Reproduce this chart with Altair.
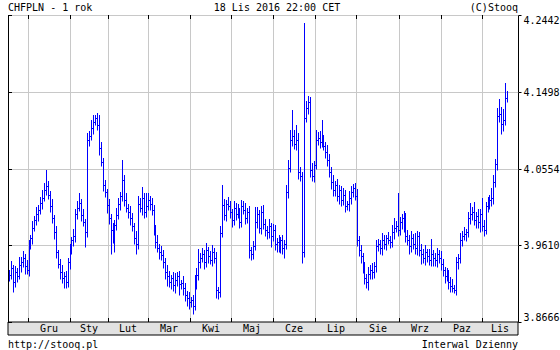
import altair as alt
import pandas as pd

# Daily CHF/PLN closes (18 Nov 2015 - 18 Nov 2016)
CLOSE = [
    3.9245, 3.9331, 3.9158, 3.9281, 3.9232, 3.9368, 3.9404, 3.9454, 3.9355, 3.9306,
    3.9614, 3.9700, 3.9823, 3.9921, 3.9995, 4.0044, 4.0130, 4.0192, 4.0290, 4.0339,
    4.0229, 4.0093, 3.9946, 3.9773, 3.9527, 3.9380, 3.9281, 3.9208, 3.9232, 3.9158,
    3.9404, 3.9552, 3.9675, 3.9724, 3.9995, 4.0069, 4.0130, 3.9983, 3.9896, 3.9773,
    4.0905, 4.0954, 4.1053, 4.1126, 4.1176, 4.1090, 4.0807, 4.0634, 4.0352, 4.0265,
    4.0106, 3.9946, 3.9798, 3.9724, 3.9860, 3.9983, 4.0118, 4.0216, 4.0413, 4.0167,
    4.0069, 4.0019, 3.9946, 3.9847, 3.9700, 3.9626, 4.0118, 4.0069, 4.0192, 4.0019,
    4.0093, 4.0167, 4.0118, 4.0044, 3.9823, 3.9650, 3.9577, 3.9527, 3.9491, 3.9404,
    3.9281, 3.9232, 3.9158, 3.9208, 3.9122, 3.9183, 3.9232, 3.9134, 3.9146, 3.9085,
    3.8999, 3.8962, 3.8912, 3.8937, 3.8863, 3.9158, 3.9245, 3.9404, 3.9454, 3.9503,
    3.9404, 3.9552, 3.9478, 3.9429, 3.9527, 3.9454, 3.9060, 3.9035, 3.9761, 4.0106,
    3.9983, 4.0118, 4.0093, 4.0019, 3.9921, 4.0069, 3.9995, 4.0019, 3.9896, 4.0093,
    4.0044, 3.9946, 4.0019, 3.9552, 3.9503, 3.9601, 3.9896, 3.9995, 3.9823, 4.0019,
    3.9872, 3.9798, 3.9773, 3.9847, 3.9724, 3.9798, 3.9626, 3.9650, 3.9601, 3.9675,
    3.9577, 3.9626, 4.0265, 4.0561, 4.0905, 4.0954, 4.0856, 4.0905, 4.0511, 4.0462,
    3.9527, 4.1176, 4.1299, 4.1372, 4.0536, 4.0462, 4.0598, 4.0905, 4.0930, 4.0880,
    4.0905, 4.0831, 4.0757, 4.0659, 4.0511, 4.0388, 4.0290, 4.0352, 4.0216, 4.0290,
    4.0167, 4.0229, 4.0093, 4.0118, 4.0192, 4.0265, 4.0315, 4.0216, 3.9675, 3.9552,
    3.9478, 3.9331, 3.9208, 3.9158, 3.9257, 3.9306, 3.9281, 3.9355, 3.9601, 3.9626,
    3.9577, 3.9675, 3.9626, 3.9700, 3.9675, 3.9650, 3.9773, 3.9823, 3.9847, 3.9798,
    3.9896, 3.9946, 3.9823, 3.9724, 3.9675, 3.9601, 3.9700, 3.9626, 3.9577, 3.9724,
    3.9552, 3.9503, 3.9454, 3.9527, 3.9478, 3.9429, 3.9503, 3.9454, 3.9429, 3.9503,
    3.9454, 3.9380, 3.9306, 3.9232, 3.9257, 3.9158, 3.9109, 3.9085, 3.9060, 3.9404,
    3.9454, 3.9675, 3.9724, 3.9749, 3.9773, 3.9946, 3.9995, 4.0019, 3.9921, 3.9970,
    3.9896, 3.9995, 3.9847, 3.9798, 4.0093, 4.0118, 4.0167, 4.0192, 4.0388, 4.0610,
    4.1200, 4.1225, 4.1102, 4.1151, 4.1422, 4.1459,
]

# Daily wick above / below the open-close body, in thousandths of a zloty
HI_EXT = [
    6, 9, 4, 7, 5, 10, 6, 8, 5, 7, 6, 4, 8, 5, 9, 6, 7, 10, 8, 20,
    6, 5, 9, 4, 7, 3, 6, 8, 5, 6, 5, 7, 4, 9, 6, 8, 12, 5, 7, 4,
    9, 6, 10, 8, 4, 6, 12, 7, 5, 6, 4, 7, 5, 8, 6, 9, 7, 5, 24, 6,
    8, 5, 7, 6, 4, 9, 10, 7, 14, 6, 16, 8, 5, 7, 6, 4, 8, 5, 7, 6,
    5, 8, 6, 4, 7, 9, 5, 6, 4, 8, 6, 5, 7, 4, 6, 9, 8, 16, 6, 7,
    5, 8, 4, 6, 9, 5, 7, 4, 8, 24, 7, 5, 9, 6, 4, 8, 6, 10, 5, 7,
    6, 9, 5, 7, 4, 6, 18, 8, 5, 7, 9, 6, 5, 8, 4, 7, 6, 5, 8, 4,
    6, 5, 8, 10, 12, 32, 7, 18, 9, 6, 5, 117, 9, 7, 6, 8, 5, 12, 7, 9,
    25, 6, 5, 8, 7, 6, 9, 5, 7, 6, 5, 8, 6, 4, 9, 7, 5, 6, 8, 5,
    6, 4, 7, 5, 8, 6, 9, 5, 7, 6, 5, 8, 6, 4, 7, 5, 9, 12, 6, 40,
    6, 5, 8, 18, 7, 6, 9, 5, 14, 6, 5, 7, 6, 8, 4, 9, 18, 5, 6, 7,
    5, 8, 6, 4, 7, 5, 6, 8, 4, 6, 5, 8, 6, 9, 4, 7, 14, 6, 12, 5,
    8, 6, 20, 7, 5, 9, 6, 12, 8, 6, 10, 18, 9, 13, 18, 5,
]
LO_EXT = [
    7, 5, 12, 6, 8, 4, 9, 6, 10, 5, 7, 5, 8, 4, 6, 9, 5, 7, 4, 6,
    5, 8, 6, 9, 7, 5, 8, 6, 12, 7, 6, 9, 5, 7, 8, 6, 4, 7, 5, 18,
    6, 8, 5, 7, 4, 6, 9, 5, 8, 6, 10, 7, 30, 9, 20, 6, 5, 7, 6, 8,
    5, 7, 9, 6, 8, 12, 6, 5, 9, 7, 6, 5, 8, 6, 9, 7, 5, 8, 6, 7,
    8, 12, 6, 9, 7, 10, 8, 14, 6, 9, 7, 10, 8, 6, 10, 5, 8, 6, 7, 5,
    8, 6, 9, 5, 7, 6, 10, 8, 6, 5, 6, 8, 5, 7, 9, 6, 8, 5, 7, 6,
    5, 7, 6, 10, 8, 6, 5, 7, 6, 8, 6, 8, 9, 7, 14, 6, 8, 10, 7, 9,
    8, 12, 6, 7, 5, 8, 6, 7, 9, 6, 14, 6, 5, 7, 9, 6, 8, 5, 6, 7,
    6, 5, 7, 8, 6, 9, 7, 8, 6, 10, 7, 6, 8, 5, 9, 7, 6, 5, 8, 7,
    9, 6, 8, 7, 10, 6, 9, 7, 8, 6, 7, 9, 6, 8, 5, 7, 6, 8, 5, 7,
    6, 8, 5, 7, 6, 10, 8, 6, 7, 9, 8, 12, 6, 9, 7, 6, 8, 10, 7, 9,
    6, 8, 7, 9, 6, 8, 7, 5, 4, 6, 8, 6, 7, 5, 9, 6, 8, 7, 6, 10,
    7, 12, 6, 8, 5, 7, 6, 8, 7, 6, 8, 7, 12, 9, 6, 5,
]

MONTH_NAMES = ["Gru", "Sty", "Lut", "Mar", "Kwi", "Maj", "Cze", "Lip", "Sie", "Wrz", "Paz", "Lis"]
MONTH_START = [9.7, 31.2, 50.7, 71.2, 92.7, 113.7, 135.2, 156.7, 177.7, 199.7, 221.2, 242.2]
Y_TICKS = [3.8666, 3.9610, 4.0554, 4.1498, 4.2442]

X_MIN, X_MAX = -0.5, 260.6
W, H = 510, 307
BLUE = "#0000ff"
GRID = "#c8c8c8"
FONT = "DejaVu Sans Mono"

rows = []
for i, c in enumerate(CLOSE):
    prev = CLOSE[i - 1] if i > 0 else c
    rows.append(dict(i=i, close=c,
                     high=max(prev, c) + HI_EXT[i] / 1000.0,
                     low=min(prev, c) - LO_EXT[i] / 1000.0))
df = pd.DataFrame(rows)

ends = MONTH_START + [X_MAX]
months = pd.DataFrame({"name": MONTH_NAMES,
                       "mid": [(ends[k] + ends[k + 1]) / 2 for k in range(len(MONTH_NAMES))]})
grid_x = pd.DataFrame({"pos": MONTH_START})
grid_y = pd.DataFrame({"lvl": Y_TICKS})
one = pd.DataFrame({"a": [0]})

xs = alt.Scale(domain=[X_MIN, X_MAX], nice=False, zero=False, round=True)
ys = alt.Scale(domain=[3.8666, 4.2442], nice=False, zero=False, round=True)

X_AXIS = alt.Axis(values=MONTH_START, grid=True, gridColor=GRID, labels=False,
                  ticks=False, domain=False, title=None)
Y_AXIS = alt.Axis(orient="right", values=Y_TICKS, format=".4f", grid=True,
                  gridColor=GRID, tickSize=3, tickColor="black", domain=False,
                  labelFlush=True, labelPadding=2, title=None, labelFont=FONT,
                  labelFontSize=10, labelColor="black")

band = alt.Chart(one).mark_rect(fill="#e2e2e2", stroke="black", strokeWidth=1).encode(
    x=alt.value(0), x2=alt.value(W), y=alt.value(H), y2=alt.value(H + 13))

top_ticks = alt.Chart(grid_x).mark_rule(color="black", xOffset=0.5).encode(
    x=alt.X("pos:Q", scale=xs, axis=X_AXIS), y=alt.value(0), y2=alt.value(4))
bot_ticks = alt.Chart(grid_x).mark_rule(color="black", xOffset=0.5).encode(
    x=alt.X("pos:Q", scale=xs, axis=X_AXIS), y=alt.value(H - 4), y2=alt.value(H))
left_ticks = alt.Chart(grid_y).mark_rule(color="black", yOffset=0.5).encode(
    y=alt.Y("lvl:Q", scale=ys, axis=Y_AXIS), x=alt.value(0), x2=alt.value(4))

bars = alt.Chart(df).mark_rule(color=BLUE, strokeWidth=1, xOffset=0.5, yOffset=0.5).encode(
    x=alt.X("i:Q", scale=xs, axis=X_AXIS),
    y=alt.Y("low:Q", scale=ys, axis=Y_AXIS),
    y2="high:Q")
line = alt.Chart(df).mark_line(color=BLUE, strokeWidth=1, interpolate="step-after",
                               xOffset=0.5, yOffset=0.5).encode(
    x=alt.X("i:Q", scale=xs, axis=X_AXIS),
    y=alt.Y("close:Q", scale=ys, axis=Y_AXIS))

month_text = alt.Chart(months).mark_text(font=FONT, fontSize=10, color="black",
                                         baseline="middle", align="center").encode(
    x=alt.X("mid:Q", scale=xs, axis=X_AXIS), y=alt.value(H + 7), text="name:N")


def label(txt, x, y, align):
    return alt.Chart(pd.DataFrame({"t": [txt]})).mark_text(
        font=FONT, fontSize=10, color="black", align=align, baseline="alphabetic").encode(
        x=alt.value(x), y=alt.value(y), text="t:N")


texts = [
    label("CHFPLN - 1 rok", 0, -4, "left"),
    label("18 Lis 2016 22:00 CET", 269, -4, "center"),
    label("(C)Stooq", W, -4, "right"),
    label("http://stooq.pl", 0, H + 26, "left"),
    label("Interwal Dzienny", W, H + 26, "right"),
]

chart = alt.layer(band, top_ticks, bot_ticks, left_ticks, bars, line, month_text, *texts).properties(
    width=W, height=H,
    autosize=alt.AutoSizeParams(type="none"),
    padding={"left": 8, "top": 15, "right": 42, "bottom": 28},
    background="white",
).configure_view(stroke="black", strokeWidth=1)

chart.save("out.html", embed_options={"renderer": "svg", "actions": False})
